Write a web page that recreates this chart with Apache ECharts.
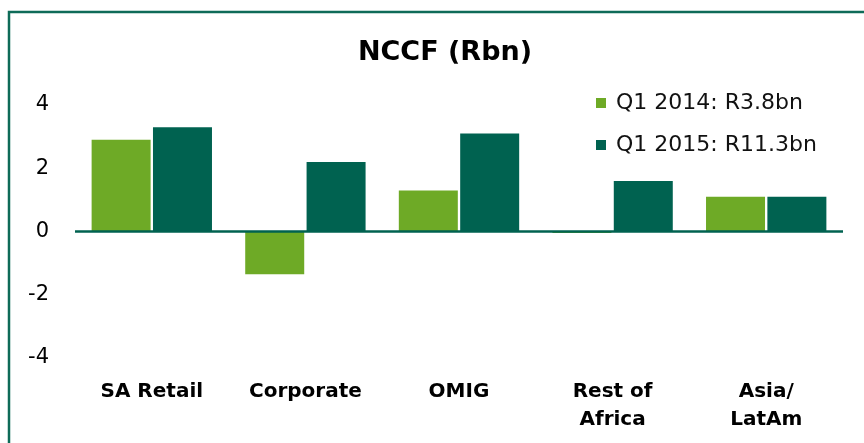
<!DOCTYPE html>
<html>
<head>
<meta charset="utf-8">
<script src="https://cdn.jsdelivr.net/npm/echarts@6/dist/echarts.min.js"></script>
<style>
  html, body { margin: 0; padding: 0; background: #fff; }
  #chart { width: 864px; height: 443px; }
</style>
</head>
<body>
<div id="chart"></div>
<script>
// segments along the x axis
const categories = ['SA Retail', 'Corporate', 'OMIG', 'Rest of\nAfrica', 'Asia/\nLatAm'];

// NCCF per segment, Rbn
const q1_2014 = [2.9, -1.35, 1.3, -0.05, 1.1];
const q1_2015 = [3.3, 2.2, 3.1, 1.6, 1.1];

const seriesNames = ['Q1 2014: R3.8bn', 'Q1 2015: R11.3bn'];
const yTicks = [-4, -2, 0, 2, 4];

const lightGreen = '#6eaa26';
const darkGreen = '#006250';

const chart = echarts.init(document.getElementById('chart'));

chart.setOption({
    backgroundColor: '#fff',
    animation: false,
    title: {
        text: 'NCCF (Rbn)',
        left: 440,
        top: 34,
        textAlign: 'center',
        textStyle: {
            fontFamily: 'DejaVu Sans',
            fontWeight: 'bold',
            fontSize: 27,
            color: '#000'
        }
    },
    legend: {
        orient: 'vertical',
        left: 591,
        top: 86,
        itemWidth: 10,
        itemHeight: 10,
        itemGap: 18,
        icon: 'rect',
        data: seriesNames,
        textStyle: {
            fontFamily: 'DejaVu Sans',
            fontSize: 22,
            lineHeight: 24,
            padding: [0, 0, 0, 5],
            color: '#111'
        }
    },
    graphic: [{
        type: 'rect',
        shape: { x: 9, y: 12, width: 900, height: 500 },
        style: { fill: 'none', stroke: '#0e6b58', lineWidth: 2.5 },
        silent: true
    }],
    grid: {
        left: 75,
        right: 21,
        top: 105,
        bottom: 85
    },
    xAxis: {
        type: 'category',
        data: categories,
        axisLine: { show: false },
        axisTick: { show: false },
        axisLabel: {
            interval: 0,
            margin: 20,
            fontFamily: 'DejaVu Sans',
            fontWeight: 'bold',
            fontSize: 20,
            lineHeight: 28,
            color: '#000'
        }
    },
    yAxis: {
        type: 'value',
        min: yTicks[0],
        max: yTicks[yTicks.length - 1],
        interval: 2,
        axisLine: { show: false },
        axisTick: { show: false },
        splitLine: { show: false },
        axisLabel: {
            margin: 26,
            fontFamily: 'DejaVu Sans',
            fontSize: 21,
            color: '#000'
        }
    },
    series: [
        {
            name: seriesNames[0],
            type: 'bar',
            data: q1_2014,
            barWidth: 59,
            barGap: '4%',
            itemStyle: { color: lightGreen },
            markLine: {
                silent: true,
                symbol: 'none',
                label: { show: false },
                lineStyle: { color: darkGreen, width: 2.5, type: 'solid' },
                data: [{ yAxis: 0 }]
            }
        },
        {
            name: seriesNames[1],
            type: 'bar',
            data: q1_2015,
            barWidth: 59,
            barGap: '4%',
            itemStyle: { color: darkGreen }
        }
    ]
});
</script>
</body>
</html>
